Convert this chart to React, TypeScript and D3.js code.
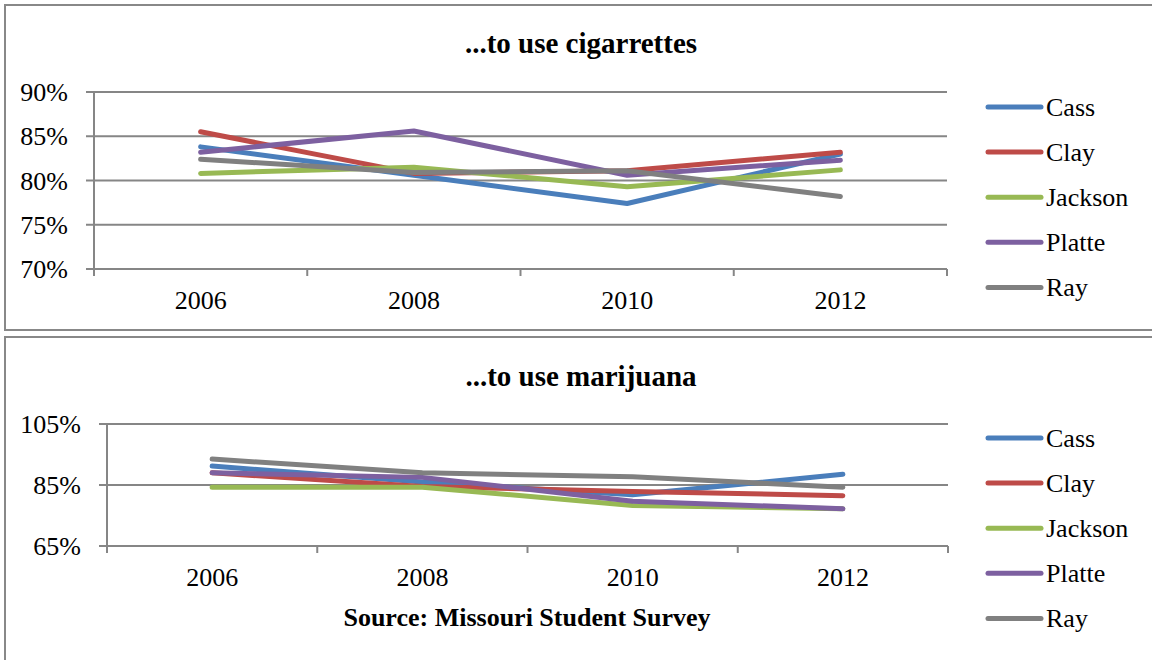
import React from "react";
import * as d3 from "d3";

const years = ["2006", "2008", "2010", "2012"];
const seriesNames = ["Cass", "Clay", "Jackson", "Platte", "Ray"];
const seriesColors = ["#4A7EBB", "#BE4B48", "#98B954", "#7D60A0", "#808080"];

// Percent of students who think it is wrong for someone their age...
const cigCass = [83.8, 80.6, 77.4, 83.0];
const cigClay = [85.5, 80.8, 81.1, 83.2];
const cigJackson = [80.8, 81.5, 79.3, 81.2];
const cigPlatte = [83.2, 85.6, 80.6, 82.3];
const cigRay = [82.4, 80.9, 81.1, 78.2];

const marCass = [91.2, 86.0, 81.8, 88.5];
const marClay = [89.0, 84.5, 82.9, 81.5];
const marJackson = [84.3, 84.3, 78.3, 77.2];
const marPlatte = [89.0, 87.5, 79.7, 77.2];
const marRay = [93.5, 89.0, 87.7, 84.3];

const cigTicks = [70, 75, 80, 85, 90];
const marTicks = [65, 85, 105];

const FONT = "'Liberation Serif', 'Times New Roman', serif";
const LABEL_SIZE = 26;

type PanelProps = {
  top: number;
  height: number;
  title: string;
  titleBaseline: number;
  series: number[][];
  ticks: number[];
  plot: { left: number; right: number; top: number; bottom: number };
  labelRight: number;
  footer?: string;
  legendTop: number;
};

function Panel({
  top,
  height,
  title,
  titleBaseline,
  series,
  ticks,
  plot,
  labelRight,
  footer,
  legendTop,
}: PanelProps) {
  const x = d3.scaleBand<string>().domain(years).range([plot.left, plot.right]);
  const y = d3
    .scaleLinear()
    .domain([d3.min(ticks)!, d3.max(ticks)!])
    .range([plot.bottom, plot.top]);
  const line = d3
    .line<number>()
    .x((_, i) => x(years[i])! + x.bandwidth() / 2)
    .y((v) => y(v));
  const boundaries = [...years.map((yr) => x(yr)!), plot.right];
  const grid = "#868686";

  return (
    <g>
      <rect x={5} y={top} width={1160} height={height} fill="#fff" stroke="#888" strokeWidth={2} />
      <text x={581} y={titleBaseline} textAnchor="middle" fontFamily={FONT} fontWeight="bold" fontSize={29}>
        {title}
      </text>
      {ticks.map((t) => (
        <g key={t}>
          <line x1={plot.left - 8} x2={plot.right} y1={y(t)} y2={y(t)} stroke={grid} strokeWidth={2} />
          <text
            x={labelRight}
            y={y(t)}
            dy="0.35em"
            textAnchor="end"
            fontFamily={FONT}
            fontSize={LABEL_SIZE}
          >
            {t}%
          </text>
        </g>
      ))}
      <line x1={plot.left} x2={plot.left} y1={plot.top} y2={plot.bottom + 7} stroke={grid} strokeWidth={2} />
      {boundaries.slice(1).map((bx, i) => (
        <line key={i} x1={bx} x2={bx} y1={plot.bottom} y2={plot.bottom + 7} stroke={grid} strokeWidth={2} />
      ))}
      {years.map((yr) => (
        <text
          key={yr}
          x={x(yr)! + x.bandwidth() / 2}
          y={plot.bottom + 31}
          dy="0.35em"
          textAnchor="middle"
          fontFamily={FONT}
          fontSize={LABEL_SIZE}
        >
          {yr}
        </text>
      ))}
      {series.map((vals, i) => (
        <path
          key={seriesNames[i]}
          d={line(vals)!}
          fill="none"
          stroke={seriesColors[i]}
          strokeWidth={5}
          strokeLinecap="round"
          strokeLinejoin="round"
        />
      ))}
      {footer && (
        <text
          x={527}
          y={plot.bottom + 71}
          dy="0.35em"
          textAnchor="middle"
          fontFamily={FONT}
          fontWeight="bold"
          fontSize={LABEL_SIZE}
        >
          {footer}
        </text>
      )}
      {seriesNames.map((name, i) => {
        const ly = legendTop + i * 45.1;
        return (
          <g key={name}>
            <line x1={988} x2={1041} y1={ly} y2={ly} stroke={seriesColors[i]} strokeWidth={5} strokeLinecap="round" />
            <text x={1046} y={ly} dy="0.33em" fontFamily={FONT} fontSize={LABEL_SIZE}>
              {name}
            </text>
          </g>
        );
      })}
    </g>
  );
}

export default function App() {
  return (
    <svg
      width={1152}
      height={660}
      style={{ position: "absolute", left: 0, top: 0, background: "#fff" }}
    >
      <Panel
        top={5}
        height={325}
        title="...to use cigarrettes"
        titleBaseline={53}
        series={[cigCass, cigClay, cigJackson, cigPlatte, cigRay]}
        ticks={cigTicks}
        plot={{ left: 94, right: 947, top: 92, bottom: 269 }}
        labelRight={68}
        legendTop={107}
      />
      <Panel
        top={337}
        height={330}
        title="...to use marijuana"
        titleBaseline={386}
        series={[marCass, marClay, marJackson, marPlatte, marRay]}
        ticks={marTicks}
        plot={{ left: 107, right: 948, top: 424, bottom: 546 }}
        labelRight={81}
        footer="Source: Missouri Student Survey"
        legendTop={438}
      />
    </svg>
  );
}
